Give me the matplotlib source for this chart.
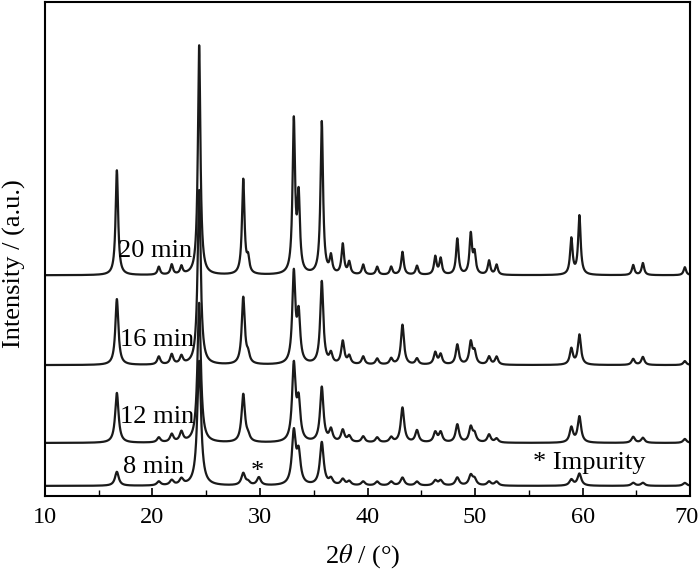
import numpy as np
import matplotlib
matplotlib.use("Agg")
import matplotlib.pyplot as plt
from matplotlib.ticker import MultipleLocator
from matplotlib.transforms import ScaledTranslation

plt.rcParams['font.family'] = ['Liberation Serif', 'DejaVu Serif']
plt.rcParams['mathtext.fontset'] = 'stix'

# Peak positions (2theta, degrees)
peak_pos = [16.7, 20.6, 21.8, 22.7, 24.35, 28.45, 28.9, 29.9, 33.15, 33.6, 35.75,
            36.6, 37.7, 38.3, 39.6, 40.9, 42.2, 43.25, 44.6, 46.3, 46.8, 48.35,
            49.6, 49.95, 51.3, 52.0, 58.95, 59.7, 64.7, 65.6, 69.5]
# Relative peak intensities (a.u.) per sample
h_20 = [105, 8, 10, 8, 230, 95, 14, 0, 152, 74, 153, 17, 30, 12, 10, 8, 8, 23, 9,
        18, 16, 36, 40, 20, 14, 10, 36, 59, 10, 12, 8]
h_16 = [66, 8, 10, 8, 175, 67, 8, 0, 90, 47, 83, 10, 23, 8, 8, 6, 6, 40, 6, 12, 10,
        20, 22, 12, 8, 8, 16, 30, 6, 8, 4]
h_12 = [50, 5, 8, 10, 140, 48, 5, 0, 76, 38, 55, 12, 12, 6, 6, 5, 5, 35, 12, 10, 10,
        18, 15, 8, 8, 4, 15, 26, 6, 5, 4]
h_8 = [14, 4, 5, 6, 125, 12, 3, 8, 52, 30, 43, 6, 6, 4, 4, 4, 4, 8, 4, 5, 5, 8, 10,
       6, 4, 4, 6, 12, 3, 3, 3]
labels = ["8 min", "12 min", "16 min", "20 min"]
heights = [h_8, h_12, h_16, h_20]
offsets = [10, 53, 131, 221]
fwhm = [0.42, 0.38, 0.34, 0.28]
xticks = [10, 20, 30, 40, 50, 60, 70]

x = np.linspace(10, 70, 6001)

fig = plt.figure(figsize=(7, 5.7), dpi=100)
ax = fig.add_axes([0.064, 0.130, 0.922, 0.867])

for lab, hs, off, w in zip(labels, heights, offsets, fwhm):
    y = np.full_like(x, float(off))
    for p, h in zip(peak_pos, hs):
        g = w / 2
        y += h * g**2 / ((x - p)**2 + g**2)
    ax.plot(x, y, color='#1a1a1a', lw=1.6)

# sample labels
lab_pos = {"20 min": (16.8, 245), "16 min": (17.0, 156), "12 min": (17.0, 79), "8 min": (17.3, 29)}
for lab, (lx, ly) in lab_pos.items():
    ax.text(lx, ly, lab, fontsize=19, ha='left', va='center')
ax.text(29.8, 24, "*", fontsize=19, ha='center', va='center')
ax.text(55.4, 33, "* Impurity", fontsize=19, ha='left', va='center')

ax.set_xlim(10, 70)
ax.set_ylim(0, 495)
ax.set_xticks(xticks)
ax.set_xticklabels([str(t) for t in xticks])
ax.xaxis.set_minor_locator(MultipleLocator(5))
ax.tick_params(axis='x', which='major', direction='in', length=6, width=1.2,
               labelsize=17.5, pad=8)
ax.tick_params(axis='x', which='minor', direction='in', length=4, width=1.0)
ax.set_yticks([])
for s in ax.spines.values():
    s.set_linewidth(1.5)
ax.set_xlabel(r"2$\it{\theta}$ / (°)", fontsize=19)
ax.xaxis.set_label_coords(0.493, -0.093)
ax.set_ylabel("Intensity / (a.u.)", fontsize=19)
ax.yaxis.set_label_coords(-0.047, 0.47)
ax.yaxis.label.set_verticalalignment('center')

fig.canvas.draw()
last = ax.get_xticklabels()[-1]
last.set_transform(last.get_transform() + ScaledTranslation(-4 / 100, 0, fig.dpi_scale_trans))

fig.savefig("out.png", dpi=100)
